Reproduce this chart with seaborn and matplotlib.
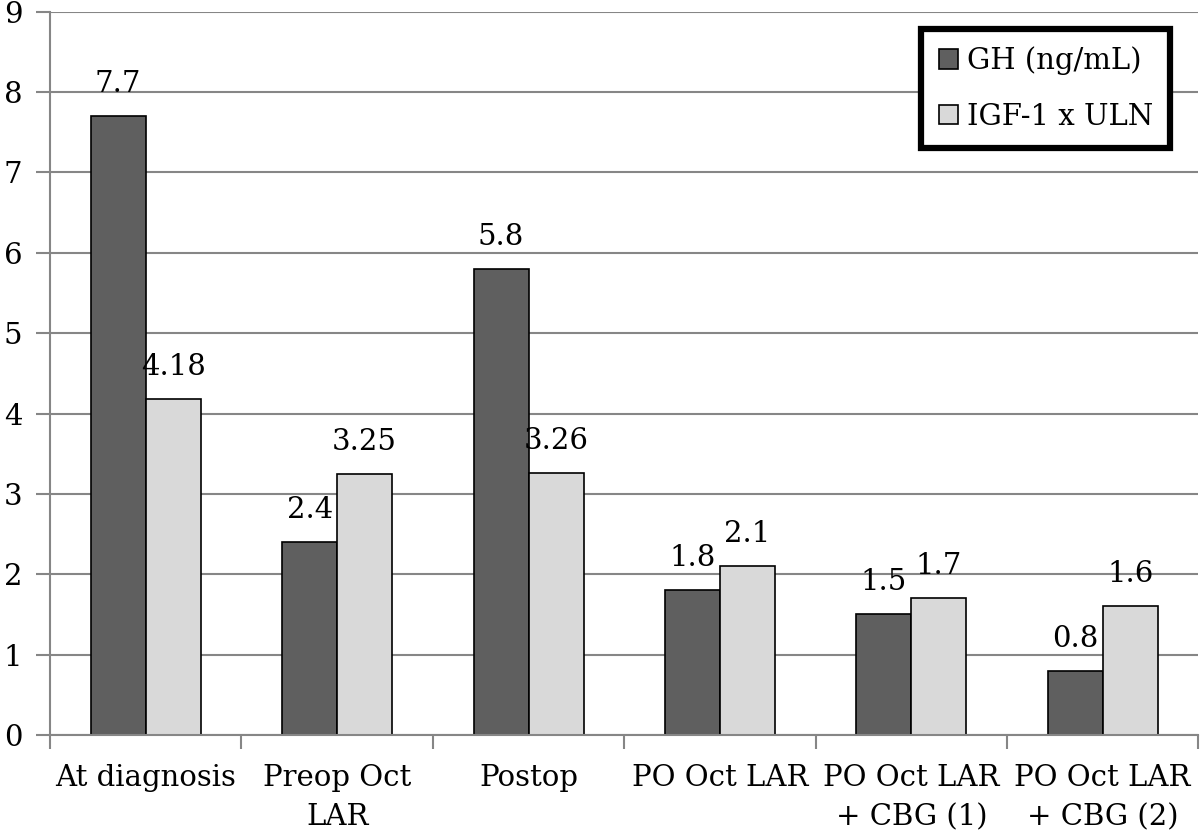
import matplotlib
matplotlib.use("Agg")
import matplotlib.pyplot as plt
import seaborn as sns
import pandas as pd
from matplotlib.ticker import FixedLocator

categories = ["At diagnosis", "Preop Oct\nLAR", "Postop", "PO Oct LAR",
              "PO Oct LAR\n+ CBG (1)", "PO Oct LAR\n+ CBG (2)"]
gh = [7.7, 2.4, 5.8, 1.8, 1.5, 0.8]
igf = [4.18, 3.25, 3.26, 2.1, 1.7, 1.6]
series = ["GH (ng/mL)", "IGF-1 x ULN"]
yticks = list(range(0, 10))

df = pd.DataFrame({
    "cat": categories * 2,
    "val": gh + igf,
    "series": [series[0]] * len(gh) + [series[1]] * len(igf),
})

sns.set_style("white")
plt.rcParams["font.family"] = ["DejaVu Serif"]
FS = 21

fig = plt.figure(figsize=(12, 8.39), dpi=100)
ax = fig.add_axes([0.0417, 0.124, 0.957, 0.862])

sns.barplot(data=df, x="cat", y="val", hue="series", order=categories,
            hue_order=series, palette=["#5f5f5f", "#d9d9d9"],
            edgecolor="black", linewidth=1.2, width=0.575, gap=0, ax=ax,
            saturation=1)

for cont in ax.containers:
    ax.bar_label(cont, labels=[f"{v:g}" for v in cont.datavalues],
                 padding=13, fontsize=FS, color="black")

gray = "#868686"
ax.set_ylim(0, 9)
ax.set_yticks(yticks)
ax.set_xlim(-0.5, len(categories) - 0.5)
ax.yaxis.grid(True, color=gray, linewidth=1.5)
ax.set_axisbelow(True)
for s in ["top", "right"]:
    ax.spines[s].set_visible(False)
for s in ["left", "bottom"]:
    ax.spines[s].set_color(gray)
    ax.spines[s].set_linewidth(1.5)

ax.xaxis.set_minor_locator(FixedLocator([i - 0.5 for i in range(len(categories) + 1)]))
ax.tick_params(axis="x", which="major", length=0, pad=21, labelsize=FS, labelcolor="black")
ax.tick_params(axis="x", which="minor", length=10, width=1.5, color=gray, direction="out", bottom=True)
ax.tick_params(axis="y", length=10, width=1.5, color=gray, direction="out", left=True,
               labelsize=FS, pad=10, labelcolor="black")
for t in ax.get_xticklabels():
    t.set_linespacing(1.5)
ax.set_xlabel("")
ax.set_ylabel("")

leg = ax.legend(loc="upper right", bbox_to_anchor=(0.9756, 0.9765), borderaxespad=0,
                fontsize=FS, frameon=True, fancybox=False, edgecolor="black",
                framealpha=1, handlelength=0.65, handleheight=0.65, handletextpad=0.3,
                labelspacing=0.95, borderpad=0.6)
leg.get_frame().set_linewidth(4.5)
for txt in leg.get_texts():
    txt.set_color("black")

fig.savefig("out.png", dpi=100)
